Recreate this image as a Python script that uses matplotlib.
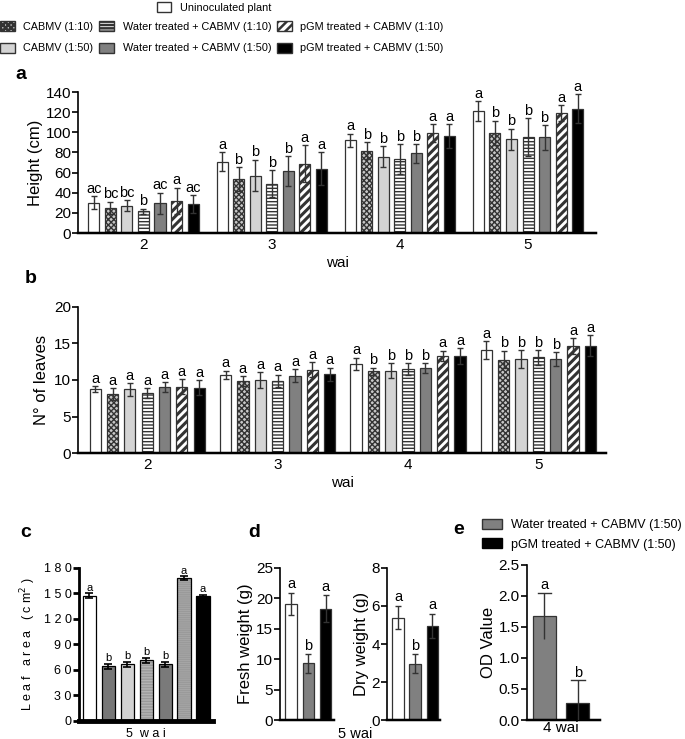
import matplotlib
matplotlib.use('Agg')
import matplotlib.pyplot as plt
from matplotlib.patches import Patch
from matplotlib import font_manager as fm
import numpy as np

plt.rcParams['font.family'] = ['Liberation Sans', 'DejaVu Sans']
names = {f.name for f in fm.fontManager.ttflist}
if 'Liberation Sans Narrow' in names:
    narrow = ['Liberation Sans Narrow', 'Liberation Sans']
    top_size = 8.5
else:
    narrow = ['Liberation Sans', 'DejaVu Sans']
    top_size = 7

# ---- data ----
weeks = ['2', '3', '4', '5']
treatments = ['Uninoculated plant', 'CABMV (1:10)', 'CABMV (1:50)',
              'Water treated + CABMV (1:10)', 'Water treated + CABMV (1:50)',
              'pGM treated + CABMV (1:10)', 'pGM treated + CABMV (1:50)']

height_mean = [[30, 70.8, 92, 121],
               [25, 53.5, 81.5, 99.4],
               [27, 57, 75.8, 93],
               [21.6, 49, 73.5, 95],
               [29.5, 61.5, 79, 95],
               [32, 69, 99, 119],
               [28.6, 64, 96.4, 123.4]]
height_err = [[6.5, 9.5, 6.8, 9.7],
              [6.2, 12, 8.5, 12],
              [5.5, 15.7, 10.3, 10.4],
              [2.7, 13.2, 14.8, 19],
              [10.3, 14.5, 9.3, 12.1],
              [13, 18, 9, 7.7],
              [9, 16, 11.6, 14.6]]
height_letters = [['ac', 'a', 'a', 'a'],
                  ['bc', 'b', 'b', 'b'],
                  ['bc', 'b', 'b', 'b'],
                  ['b', 'b', 'b', 'b'],
                  ['ac', 'b', 'b', 'b'],
                  ['a', 'a', 'a', 'a'],
                  ['ac', 'a', 'a', 'a']]

leaves_mean = [[8.77, 10.7, 12.2, 14.1],
               [8.1, 9.86, 11.2, 12.8],
               [8.7, 10.0, 11.3, 12.9],
               [8.2, 9.86, 11.5, 13.1],
               [9.0, 10.6, 11.6, 12.9],
               [9.1, 11.4, 13.3, 14.6],
               [8.95, 10.8, 13.3, 14.7]]
leaves_err = [[0.4, 0.6, 0.85, 1.2],
              [0.8, 0.65, 0.5, 1.2],
              [0.9, 1.1, 1.0, 1.2],
              [0.7, 0.85, 0.8, 1.0],
              [0.7, 0.9, 0.7, 0.95],
              [1.0, 1.0, 0.7, 1.1],
              [1.05, 0.9, 1.1, 1.4]]
leaves_letters = [['a', 'a', 'a', 'a'],
                  ['a', 'a', 'b', 'b'],
                  ['a', 'a', 'b', 'b'],
                  ['a', 'a', 'b', 'b'],
                  ['a', 'a', 'b', 'b'],
                  ['a', 'a', 'a', 'a'],
                  ['a', 'a', 'a', 'a']]

area_mean = [147.6, 64.6, 66.5, 71.3, 66.5, 168, 146.5]
area_err = [2.5, 3, 3, 3, 3, 2, 2]
area_letters = ['a', 'b', 'b', 'b', 'b', 'a', 'a']
area_ticks = [0, 30, 60, 90, 120, 150, 180]

fresh_mean = [19.1, 9.3, 18.3]
fresh_err = [1.8, 1.5, 2.2]
dry_mean = [5.39, 2.96, 4.94]
dry_err = [0.62, 0.5, 0.64]
weight_letters = ['a', 'b', 'a']

od_mean = [1.68, 0.27]
od_err = [0.37, 0.37]
od_letters = ['a', 'b']

# ---- styles ----
faces = ['white', '#c8c8c8', '#d4d4d4', 'white', '#808080', 'white', 'black']
hatches = [None, 'xxxxxx', None, '-----', None, '////', None]
c_faces = ['white', '#777777', '#d2d2d2', '#b4b4b4', '#7a7a7a', '#aaaaaa', 'black']
c_hatches = [None, None, None, '------', None, '--------', None]

fig = plt.figure(figsize=(6.85, 7.39), dpi=100)


def style_axes(ax, lw=1.2):
    for s in ['top', 'right']:
        ax.spines[s].set_visible(False)
    ax.spines['left'].set_linewidth(lw)
    ax.spines['bottom'].set_linewidth(lw + 0.6)
    ax.tick_params(axis='y', direction='out', length=4, width=lw, labelsize=11, pad=1)
    ax.tick_params(axis='x', length=0, labelsize=11)


def hbar(ax, pos, h, w, face, hatch, **kw):
    lw = 2.2 if hatch == '////' else 1.0
    with plt.rc_context({'hatch.linewidth': lw}):
        bars = ax.bar(pos, h, w, color=face, hatch=hatch, **kw)
        if hatch == '////':
            for b in bars:
                if hasattr(b, 'set_hatch_linewidth'):
                    b.set_hatch_linewidth(lw)
    return bars


def grouped(ax, means, errs, letters, pitch, width, ymax, offset):
    x = np.arange(len(weeks))
    for i in range(7):
        pos = x + (i - 3) * pitch
        hbar(ax, pos, means[i], width, faces[i], hatches[i], edgecolor='#333333',
             linewidth=0.9, zorder=2)
        ax.errorbar(pos, means[i], yerr=errs[i], fmt='none', ecolor='#333333',
                    elinewidth=1, capsize=2.5, capthick=1, zorder=3)
        for j in range(len(weeks)):
            ax.text(pos[j], means[i][j] + errs[i][j] + offset, letters[i][j],
                    ha='center', va='bottom', fontsize=10.5)
    ax.set_xticks(x)
    ax.set_xticklabels(weeks)
    ax.set_ylim(0, ymax)
    ax.set_xlabel('wai', fontsize=11, labelpad=3)


# panel a
ax_a = fig.add_axes([0.114, 0.6847, 0.756, 0.1908])
style_axes(ax_a)
grouped(ax_a, height_mean, height_err, height_letters, 0.129, 0.086, 140, 0.5)
ax_a.set_xlim(-0.51, 3.53)
ax_a.set_yticks(range(0, 141, 20))
ax_a.set_ylabel('Height (cm)', fontsize=12, labelpad=2)
fig.text(0.022, 0.893, 'a', fontsize=14, fontweight='bold')

# panel b
ax_b = fig.add_axes([0.114, 0.387, 0.771, 0.1976])
style_axes(ax_b)
grouped(ax_b, leaves_mean, leaves_err, leaves_letters, 0.133, 0.086, 20, 0.05)
ax_b.set_xlim(-0.53, 3.52)
ax_b.set_yticks(range(0, 21, 5))
ax_b.set_ylabel('N° of leaves', fontsize=12, labelpad=4)
fig.text(0.036, 0.617, 'b', fontsize=14, fontweight='bold')

# panel c
ax_c = fig.add_axes([0.115, 0.0244, 0.196, 0.207])
style_axes(ax_c, lw=2)
ax_c.spines['bottom'].set_linewidth(3.5)
xc = np.arange(7)
for i in range(7):
    ax_c.bar(xc[i], area_mean[i], 0.69, color=c_faces[i], edgecolor='#9a9a9a',
             linewidth=0, hatch=c_hatches[i], zorder=2)
    ax_c.bar(xc[i], area_mean[i], 0.69, fill=False, edgecolor='black',
             linewidth=0.9, zorder=2)
    ax_c.text(xc[i], area_mean[i] + area_err[i] + 1, area_letters[i],
              ha='center', va='bottom', fontsize=8, family=narrow)
ax_c.errorbar(xc, area_mean, yerr=area_err, fmt='none', ecolor='black',
              elinewidth=1.2, capsize=3, capthick=1.2, zorder=3)
ax_c.set_xlim(-0.55, 6.53)
ax_c.set_ylim(0, 180)
ax_c.set_yticks(area_ticks)
ax_c.set_yticklabels([' '.join(str(t)) for t in area_ticks], family=narrow, fontsize=9)
ax_c.set_xticks([3])
ax_c.set_xticklabels(['5  w a i'], family=narrow, fontsize=9)
ax_c.tick_params(axis='x', pad=5)
ax_c.set_ylabel('L e a f   a r e a   ( c m$^{2}$ )', family=narrow, fontsize=9, labelpad=4)
fig.text(0.03, 0.274, 'c', fontsize=14, fontweight='bold')

# panel d
w_faces = ['white', '#808080', 'black']
for left, means, errs, ymax, step, lab in [
        (0.409, fresh_mean, fresh_err, 25, 5, 'Fresh weight (g)'),
        (0.565, dry_mean, dry_err, 8, 2, 'Dry weight (g)')]:
    ax = fig.add_axes([left, 0.0257, 0.078, 0.2057])
    style_axes(ax)
    xd = np.arange(3)
    ax.bar(xd, means, 0.68, color=w_faces, edgecolor='#333333', linewidth=0.9, zorder=2)
    ax.errorbar(xd, means, yerr=errs, fmt='none', ecolor='#333333',
                elinewidth=1, capsize=2.5, capthick=1, zorder=3)
    for j in range(3):
        ax.text(xd[j], means[j] + errs[j] + ymax * 0.01, weight_letters[j],
                ha='center', va='bottom', fontsize=10.5)
    ax.set_xlim(-0.65, 2.47)
    ax.set_ylim(0, ymax)
    ax.set_yticks(np.arange(0, ymax + 0.1, step))
    ax.set_xticks([])
    ax.set_ylabel(lab, fontsize=12, labelpad=2)
fig.text(0.519, 0.002, '5 wai', fontsize=10.5, ha='center')
fig.text(0.363, 0.274, 'd', fontsize=14, fontweight='bold')

# panel e
ax_e = fig.add_axes([0.769, 0.0257, 0.107, 0.2098])
style_axes(ax_e)
xe = np.arange(2)
ax_e.bar(xe, od_mean, 0.69, color=['#808080', 'black'], edgecolor='#333333',
         linewidth=0.9, zorder=2)
ax_e.errorbar(xe, od_mean, yerr=od_err, fmt='none', ecolor='#333333',
              elinewidth=1, capsize=0, zorder=3)
for j in range(2):
    ax_e.text(xe[j], od_mean[j] + od_err[j] + 0.01, od_letters[j],
              ha='center', va='bottom', fontsize=10.5)
    ax_e.plot([xe[j] - 0.2, xe[j] + 0.2], [od_mean[j] + od_err[j]] * 2,
              color='#333333', lw=1, zorder=3)
ax_e.set_xlim(-0.52, 1.66)
ax_e.set_ylim(0, 2.5)
ax_e.set_yticks([0, 0.5, 1.0, 1.5, 2.0, 2.5])
ax_e.set_yticklabels(['0.0', '0.5', '1.0', '1.5', '2.0', '2.5'])
ax_e.set_xticks([0.5])
ax_e.set_xticklabels(['4 wai'])
ax_e.tick_params(axis='x', pad=1)
ax_e.set_ylabel('OD Value', fontsize=12, labelpad=2)
fig.text(0.662, 0.278, 'e', fontsize=14, fontweight='bold')
e_handles = [Patch(facecolor='#808080', edgecolor='#333333', label=treatments[4]),
             Patch(facecolor='black', edgecolor='black', label=treatments[6])]
fig.legend(handles=e_handles, loc='upper left', bbox_to_anchor=(0.703, 0.298),
           frameon=False, borderpad=0, borderaxespad=0, handlelength=1.6,
           handleheight=0.88, handletextpad=0.75, labelspacing=0.55,
           prop={'family': ['Liberation Sans'], 'size': 9.0})

# top legends
with plt.rc_context({'hatch.linewidth': 1.8}):
    h0 = [Patch(facecolor='white', edgecolor='#333333', label=treatments[0])]
    fig.legend(handles=h0, loc='upper left', bbox_to_anchor=(0.229, 0.997),
               frameon=False, borderpad=0, borderaxespad=0,
               handlelength=1.35, handleheight=1.0, handletextpad=0.8,
               prop={'family': narrow, 'size': top_size + 0.8})
    hs = []
    for i in [1, 2, 3, 4, 5, 6]:
        hs.append(Patch(facecolor=faces[i], edgecolor='#333333', hatch=hatches[i],
                        label=treatments[i]))
    fig.legend(handles=hs, loc='upper left', bbox_to_anchor=(0.0, 0.971), ncol=3,
               frameon=False, borderpad=0, borderaxespad=0,
               handlelength=1.35, handleheight=1.0, handletextpad=0.8,
               columnspacing=0.55, labelspacing=1.0,
               prop={'family': narrow, 'size': top_size + 0.8})

fig.savefig('out.png', dpi=100)
